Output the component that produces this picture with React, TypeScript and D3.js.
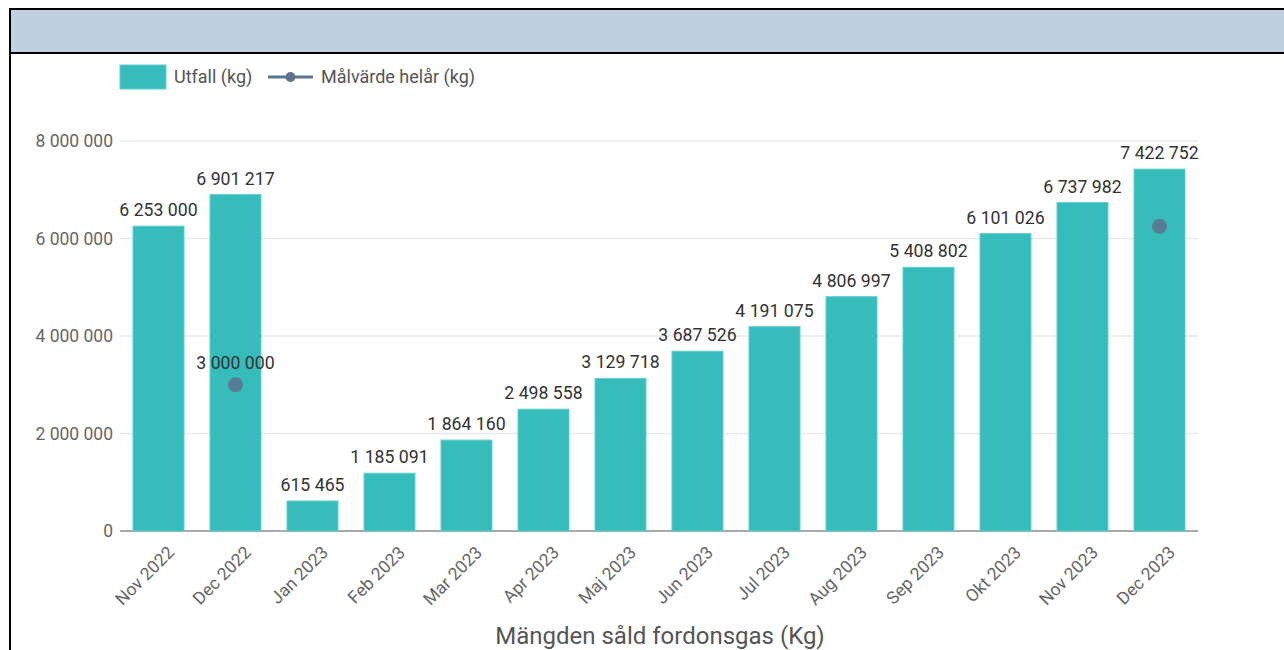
import React from "react";
import * as d3 from "d3";

const categories = ["Nov 2022","Dec 2022","Jan 2023","Feb 2023","Mar 2023","Apr 2023","Maj 2023","Jun 2023","Jul 2023","Aug 2023","Sep 2023","Okt 2023","Nov 2023","Dec 2023"];
const utfall = [6253000,6901217,615465,1185091,1864160,2498558,3129718,3687526,4191075,4806997,5408802,6101026,6737982,7422752];
const malvarde: (number | null)[] = [null,3000000,null,null,null,null,null,null,null,null,null,null,null,6250000];
const yTicks = [0,2000000,4000000,6000000,8000000];
const seriesNames = ["Utfall (kg)", "Målvärde helår (kg)"];
const xTitle = "Mängden såld fordonsgas (Kg)";

const W = 1284, H = 650;
const left = 120, right = 1198, top = 141, bottom = 531;
const FONT = "Roboto, 'Noto Sans', sans-serif";
const barColor = "#37bcbc";
const pointColor = "#5b7490";

const loc = d3.formatLocale({ thousands: " ", grouping: [3], decimal: ",", currency: ["", ""] });
const fmt = loc.format(",d");

export default function App() {
  const x = d3.scaleBand<string>().domain(categories).range([left, right]).paddingInner(0.338).paddingOuter(0.169);
  const y = d3.scaleLinear().domain([0, 8000000]).range([bottom, top]);
  const bw = x.bandwidth();
  return (
    <svg width={W} height={H} style={{ position: "absolute", left: 0, top: 0, fontFamily: FONT }}>
      <rect x={0} y={0} width={W} height={H} fill="#fff" />
      <rect x={10} y={9} width={W} height={44} fill="#bfd0e1" stroke="#000" strokeWidth={2} />
      <line x1={10} y1={9} x2={10} y2={H} stroke="#000" strokeWidth={2} />
      {/* legend */}
      <rect x={120} y={65} width={46} height={24} fill={barColor} stroke="#5fd0d0" strokeWidth={1} />
      <text x={174} y={83} fontSize={18} fill="#555">{seriesNames[0]}</text>
      <line x1={268} y1={77} x2={313} y2={77} stroke={pointColor} strokeWidth={3} />
      <circle cx={290.5} cy={77} r={5} fill={pointColor} />
      <text x={321} y={83} fontSize={18} fill="#555">{seriesNames[1]}</text>
      {/* grid */}
      {yTicks.map((t) => (
        <g key={t}>
          <line x1={left} x2={right} y1={y(t)} y2={y(t)} stroke={t === 0 ? "#aaa" : "#e6e9ee"} strokeWidth={t === 0 ? 2 : 1.5} />
          <text x={113} y={y(t)} dy="0.35em" textAnchor="end" fontSize={17.5} fill="#666">{fmt(t)}</text>
        </g>
      ))}
      {/* bars */}
      {utfall.map((v, i) => (
        <g key={categories[i]}>
          <rect x={x(categories[i])!} y={y(v)} width={bw} height={y(0) - y(v)} fill={barColor} stroke="#5fd0d0" strokeWidth={1} />
          <text x={x(categories[i])! + bw / 2} y={y(v) - 10} textAnchor="middle" fontSize={17.7} fill="#333">{fmt(v)}</text>
        </g>
      ))}
      {/* points */}
      {malvarde.map((v, i) => v == null ? null : (
        <g key={"p" + i}>
          <circle cx={x(categories[i])! + bw / 2} cy={y(v)} r={7.5} fill={pointColor} opacity={0.9} />
          {i === 1 && (
            <text x={x(categories[i])! + bw / 2} y={y(v) - 16} textAnchor="middle" fontSize={17.7} fill="#333">{fmt(v)}</text>
          )}
        </g>
      ))}
      {/* x labels */}
      {categories.map((c) => {
        const cx = x(c)! + bw / 2 + 8;
        const cy = bottom + 14;
        return (
          <text key={c} x={cx} y={cy} transform={`rotate(-45 ${cx} ${cy})`} textAnchor="end" dy="0.7em" fontSize={17.5} fill="#666">{c}</text>
        );
      })}
      <text x={(left + right) / 2 + 1} y={644} textAnchor="middle" fontSize={24} fill="#555">{xTitle}</text>
    </svg>
  );
}
